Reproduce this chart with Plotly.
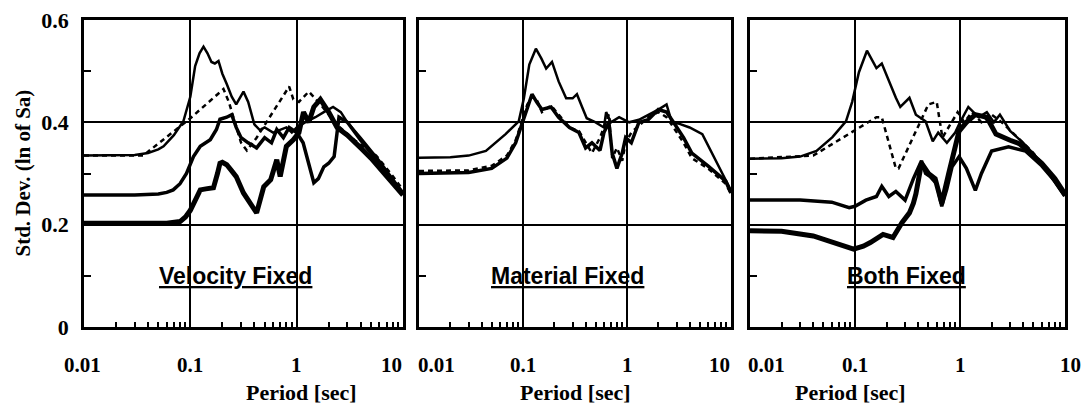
import plotly.graph_objects as go
import math

# ---------------- data (period [sec], std. dev.) ----------------
# Panel 1: Velocity Fixed
p1_a_x = [0.01, 0.02, 0.03, 0.04, 0.05, 0.056, 0.07, 0.086, 0.1, 0.111, 0.122, 0.133, 0.145, 0.158, 0.17, 0.184, 0.2, 0.22, 0.245, 0.27, 0.3, 0.316, 0.35, 0.4, 0.45, 0.5, 0.6, 0.7, 0.8, 0.9, 1.0, 1.2, 1.5, 1.8, 2.2, 2.6, 3.0, 4.0, 5.0, 6.0, 8.0, 10]
p1_a_y = [0.335, 0.335, 0.336, 0.34, 0.347, 0.353, 0.375, 0.402, 0.45, 0.51, 0.535, 0.548, 0.535, 0.518, 0.515, 0.52, 0.495, 0.475, 0.45, 0.435, 0.45, 0.46, 0.44, 0.396, 0.385, 0.39, 0.38, 0.385, 0.39, 0.38, 0.39, 0.4, 0.41, 0.42, 0.43, 0.42, 0.4, 0.37, 0.345, 0.325, 0.29, 0.262]
p1_b_x = [0.01, 0.036, 0.1, 0.205, 0.23, 0.3, 0.34, 0.42, 0.85, 0.93, 1.05, 1.3, 1.6, 2.4, 3.5, 5.6, 8, 10]
p1_b_y = [0.335, 0.335, 0.408, 0.465, 0.44, 0.36, 0.345, 0.37, 0.47, 0.445, 0.44, 0.46, 0.44, 0.395, 0.365, 0.335, 0.295, 0.268]
p1_c_x = [0.01, 0.03, 0.05, 0.06, 0.069, 0.08, 0.092, 0.107, 0.124, 0.14, 0.154, 0.176, 0.19, 0.22, 0.245, 0.27, 0.3, 0.35, 0.42, 0.5, 0.58, 0.65, 0.75, 0.85, 1.0, 1.15, 1.3, 1.45, 1.6, 1.8, 2.0, 2.25, 2.5, 3.0, 4.0, 5.0, 7.0, 10]
p1_c_y = [0.258, 0.258, 0.26, 0.263, 0.268, 0.28, 0.30, 0.333, 0.353, 0.36, 0.366, 0.386, 0.406, 0.41, 0.415, 0.39, 0.37, 0.36, 0.35, 0.37, 0.36, 0.386, 0.37, 0.39, 0.38, 0.36, 0.32, 0.282, 0.29, 0.313, 0.32, 0.333, 0.41, 0.40, 0.365, 0.34, 0.30, 0.262]
p1_d_x = [0.01, 0.03, 0.06, 0.08, 0.09, 0.1, 0.112, 0.124, 0.14, 0.165, 0.18, 0.19, 0.2, 0.22, 0.245, 0.27, 0.316, 0.37, 0.42, 0.49, 0.57, 0.65, 0.70, 0.8, 0.93, 1.05, 1.16, 1.3, 1.45, 1.67, 2.0, 2.4, 3.0, 4.0, 5.0, 7.0, 10]
p1_d_y = [0.203, 0.203, 0.203, 0.206, 0.215, 0.228, 0.25, 0.268, 0.27, 0.272, 0.30, 0.32, 0.322, 0.317, 0.305, 0.294, 0.262, 0.24, 0.223, 0.274, 0.288, 0.327, 0.294, 0.353, 0.366, 0.38, 0.42, 0.40, 0.43, 0.445, 0.42, 0.39, 0.375, 0.35, 0.33, 0.295, 0.258]

# Panel 2: Material Fixed
p2_a_x = [0.01, 0.02, 0.03, 0.044, 0.068, 0.091, 0.102, 0.115, 0.133, 0.15, 0.167, 0.19, 0.22, 0.26, 0.3, 0.33, 0.37, 0.41, 0.5, 0.6, 0.63, 0.7, 0.84, 1.05, 1.3, 1.6, 2.0, 2.4, 2.7, 3.2, 4.0, 5.3, 7, 10]
p2_a_y = [0.331, 0.332, 0.335, 0.344, 0.377, 0.402, 0.447, 0.513, 0.544, 0.525, 0.505, 0.518, 0.48, 0.447, 0.447, 0.455, 0.43, 0.408, 0.40, 0.39, 0.42, 0.40, 0.41, 0.40, 0.405, 0.414, 0.425, 0.435, 0.40, 0.397, 0.39, 0.377, 0.33, 0.267]
p2_b_x = [0.01, 0.03, 0.05, 0.07, 0.085, 0.1, 0.11, 0.122, 0.135, 0.152, 0.186, 0.22, 0.28, 0.345, 0.4, 0.46, 0.55, 0.6, 0.67, 0.72, 0.8, 0.9, 0.97, 1.1, 1.3, 1.6, 2.0, 2.4, 2.8, 3.5, 4.2, 6, 8.9, 10]
p2_b_y = [0.305, 0.306, 0.315, 0.335, 0.365, 0.41, 0.435, 0.45, 0.445, 0.42, 0.433, 0.415, 0.39, 0.383, 0.36, 0.34, 0.37, 0.39, 0.416, 0.33, 0.35, 0.325, 0.36, 0.38, 0.393, 0.41, 0.42, 0.41, 0.39, 0.36, 0.33, 0.31, 0.28, 0.26]
p2_c_x = p2_b_x
p2_c_y = [0.300, 0.302, 0.31, 0.33, 0.36, 0.405, 0.43, 0.455, 0.44, 0.425, 0.43, 0.41, 0.39, 0.38, 0.35, 0.36, 0.345, 0.38, 0.40, 0.34, 0.31, 0.34, 0.37, 0.36, 0.40, 0.405, 0.425, 0.42, 0.40, 0.37, 0.34, 0.315, 0.285, 0.262]

# Panel 3: Both Fixed
p3_a_x = [0.01, 0.02, 0.03, 0.043, 0.061, 0.082, 0.094, 0.109, 0.13, 0.16, 0.18, 0.21, 0.245, 0.27, 0.33, 0.38, 0.47, 0.55, 0.62, 0.75, 0.9, 1.0, 1.2, 1.5, 1.8, 2.1, 2.4, 3.0, 4.0, 5.3, 7, 9.8]
p3_a_y = [0.329, 0.33, 0.333, 0.344, 0.371, 0.402, 0.44, 0.498, 0.54, 0.506, 0.515, 0.48, 0.448, 0.43, 0.448, 0.415, 0.402, 0.363, 0.38, 0.36, 0.38, 0.40, 0.43, 0.41, 0.42, 0.40, 0.415, 0.383, 0.36, 0.333, 0.30, 0.256]
p3_b_x = [0.01, 0.04, 0.16, 0.18, 0.245, 0.26, 0.5, 0.6, 0.68, 0.95, 1.1, 1.3, 1.6, 2.0, 2.5, 3.0, 4.0, 5.0, 7.0, 10]
p3_b_y = [0.329, 0.335, 0.41, 0.41, 0.31, 0.31, 0.435, 0.44, 0.37, 0.42, 0.40, 0.42, 0.40, 0.415, 0.40, 0.385, 0.36, 0.34, 0.305, 0.26]
p3_c_x = [0.01, 0.03, 0.06, 0.088, 0.1, 0.127, 0.16, 0.18, 0.21, 0.245, 0.30, 0.36, 0.43, 0.47, 0.52, 0.6, 0.67, 0.75, 0.84, 0.98, 1.15, 1.4, 1.6, 2.0, 2.9, 4.2, 6, 8, 10]
p3_c_y = [0.248, 0.248, 0.244, 0.233, 0.236, 0.248, 0.255, 0.275, 0.255, 0.265, 0.248, 0.29, 0.325, 0.30, 0.294, 0.28, 0.236, 0.27, 0.313, 0.333, 0.31, 0.267, 0.30, 0.344, 0.352, 0.344, 0.315, 0.285, 0.256]
p3_d_x = [0.01, 0.02, 0.04, 0.06, 0.08, 0.097, 0.12, 0.14, 0.185, 0.23, 0.28, 0.33, 0.36, 0.38, 0.43, 0.5, 0.58, 0.67, 0.78, 0.92, 0.98, 1.15, 1.4, 1.8, 2.2, 3.0, 3.7, 6, 8, 10]
p3_d_y = [0.188, 0.187, 0.178, 0.165, 0.157, 0.152, 0.158, 0.165, 0.181, 0.175, 0.204, 0.223, 0.242, 0.26, 0.32, 0.30, 0.29, 0.242, 0.30, 0.358, 0.383, 0.40, 0.415, 0.41, 0.377, 0.365, 0.358, 0.32, 0.29, 0.26]

panel_titles = ["Velocity Fixed", "Material Fixed", "Both Fixed"]
panel_title_x = [0.265, 0.265, 0.31]
x_tickvals = [0.01, 0.1, 1, 10]
x_ticktext = ["0.01", "0.1", "1", "10"]
y_tickvals = [0, 0.2, 0.4, 0.6]
y_ticktext = ["0", "0.2", "0.4", "0.6"]
y_minor_vals = [0.1, 0.3, 0.5]

# ---------------- figure ----------------
W, H = 1083, 404
domains = [(84 / W, 403 / W), (419 / W, 731 / W), (750 / W, 1065 / W)]
# horizontal nudges (px) of the x tick labels at the panel edges, as in the original
xlabel_shift = [[-2, 0, 0, -12], [17, 0, 0, -12], [16, 0, 0, 5]]
panels = [
    [(p1_a_x, p1_a_y), (p1_b_x, p1_b_y), (p1_c_x, p1_c_y), (p1_d_x, p1_d_y)],
    [(p2_a_x, p2_a_y), (p2_b_x, p2_b_y), (p2_c_x, p2_c_y)],
    [(p3_a_x, p3_a_y), (p3_b_x, p3_b_y), (p3_c_x, p3_c_y), (p3_d_x, p3_d_y)],
]
styles = [
    dict(width=2.5, dash="solid"),
    dict(width=2.5, dash="5px,4px"),
    dict(width=3.5, dash="solid"),
    dict(width=5, dash="solid"),
]

minor_x = [m * 10 ** e for e in (-2, -1, 0) for m in range(2, 10)]

fig = go.Figure()
serif = "Liberation Serif, Times New Roman, serif"
sans = "Liberation Sans, Arial, sans-serif"

for i, series in enumerate(panels):
    xa = "x" if i == 0 else f"x{i+1}"
    ya = "y" if i == 0 else f"y{i+1}"
    for j, (xs, ys) in enumerate(series):
        fig.add_trace(go.Scatter(x=xs, y=ys, mode="lines", xaxis=xa, yaxis=ya,
                                 line=dict(color="black", **styles[j]), showlegend=False))
    xkey = "xaxis" if i == 0 else f"xaxis{i+1}"
    ykey = "yaxis" if i == 0 else f"yaxis{i+1}"
    fig.layout[xkey] = dict(
        type="log", range=[-2, 1], domain=list(domains[i]), anchor=ya, automargin=False,
        tickmode="array", tickvals=x_tickvals, ticktext=x_ticktext, showticklabels=False,
        ticks="", showgrid=True, gridcolor="black", gridwidth=1.5,
        showline=True, linecolor="black", linewidth=2.5, mirror=True, zeroline=False,
        minor=dict(tickmode="array", tickvals=minor_x, ticks="inside", ticklen=5,
                   tickcolor="black", tickwidth=1.5, showgrid=False),
    )
    fig.layout[ykey] = dict(
        range=[0, 0.6], domain=[0, 1], anchor=xa, automargin=False,
        tickmode="array", tickvals=y_tickvals, ticktext=y_ticktext,
        ticks="", showgrid=True, gridcolor="black", gridwidth=1.5,
        showline=True, linecolor="black", linewidth=2.5, mirror=True,
        zeroline=False, showticklabels=(i == 0), ticklabelstandoff=8,
        tickfont=dict(family=serif, size=22, color="black", weight="bold"),
        minor=dict(tickmode="array", tickvals=y_minor_vals, ticks="inside", ticklen=7,
                   tickcolor="black", tickwidth=1.5, showgrid=False),
    )
    # x tick labels placed on the axis values
    for k, (tv, tt) in enumerate(zip(x_tickvals, x_ticktext)):
        fig.add_annotation(x=math.log10(tv), y=-0.124, xref=xa, yref="paper",
                           text=f"<b>{tt}</b>", showarrow=False, yanchor="middle",
                           xshift=xlabel_shift[i][k],
                           font=dict(family=serif, size=21, color="black"))
    fig.add_annotation(x=math.log10(panel_title_x[i]), y=0.1, xref=xa, yref=ya,
                       text=f"<b><u>{panel_titles[i]}</u></b>", showarrow=False,
                       font=dict(family=sans, size=23, color="black"))
    fig.add_annotation(x=(domains[i][0] + domains[i][1]) / 2, y=-0.212, xref="paper", yref="paper",
                       text="<b>Period [sec]</b>", showarrow=False, yanchor="middle",
                       font=dict(family=serif, size=22, color="black"))

fig.add_annotation(x=22 / W, y=0.50, xref="paper", yref="paper", textangle=-90,
                   text="<b>Std. Dev. (ln of Sa)</b>", showarrow=False, xanchor="center",
                   font=dict(family=serif, size=21, color="black"))

fig.update_layout(width=W, height=H, margin=dict(l=0, r=0, t=20, b=77),
                  paper_bgcolor="white", plot_bgcolor="white")
fig.write_html("out.html")
